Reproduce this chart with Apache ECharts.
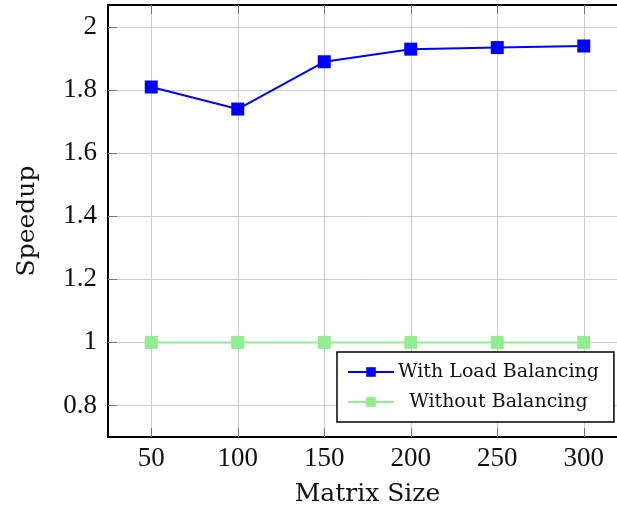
<!DOCTYPE html>
<html>
<head>
<meta charset="utf-8">
<script src="https://cdn.jsdelivr.net/npm/echarts@6/dist/echarts.min.js"></script>
<style>
  html, body { margin: 0; padding: 0; background: #fff; overflow: hidden; }
  /* wider than the window: the plot's right side runs off the picture, as in the original */
  #chart { width: 640px; height: 513px; }
</style>
</head>
<body>
<div id="chart"></div>
<script>
  // data
  var matrixSizes = [50, 100, 150, 200, 250, 300];
  var withBalancing = [1.81, 1.74, 1.89, 1.93, 1.935, 1.94];
  var withoutBalancing = [1, 1, 1, 1, 1, 1];
  var xTicks = [50, 100, 150, 200, 250, 300];
  var yTicks = [0.8, 1, 1.2, 1.4, 1.6, 1.8, 2];

  var serif = '"DejaVu Serif", serif';
  var numFont = '"Liberation Serif", serif';

  var chart = echarts.init(document.getElementById('chart'));

  function pairs(ys) {
    return matrixSizes.map(function (x, i) { return [x, ys[i]]; });
  }

  var tickStyle = { show: true, inside: true, length: 9, lineStyle: { color: '#777', width: 1 } };

  var option = {
    animation: false,
    backgroundColor: '#fff',
    grid: { left: 108, right: 13, top: 5, bottom: 76 },
    xAxis: [{
      type: 'value',
      min: 25,
      max: 325,
      name: 'Matrix Size',
      nameLocation: 'middle',
      nameGap: 45,
      nameTextStyle: { fontFamily: serif, fontSize: 25, color: '#111' },
      axisLine: { show: true, onZero: false, lineStyle: { color: '#000', width: 2 } },
      axisTick: Object.assign({ customValues: xTicks }, tickStyle),
      axisLabel: { customValues: xTicks, margin: 8, fontFamily: numFont, fontSize: 27, color: '#111' },
      splitLine: { show: true, lineStyle: { color: '#cccccc', width: 1 } }
    }, {
      type: 'value',
      position: 'top',
      min: 25,
      max: 325,
      axisLine: { show: true, lineStyle: { color: '#000', width: 2 } },
      axisTick: Object.assign({ customValues: xTicks }, tickStyle),
      axisLabel: { show: false },
      splitLine: { show: false }
    }],
    yAxis: {
      type: 'value',
      min: 0.7,
      max: 2.07,
      name: 'Speedup',
      nameLocation: 'middle',
      nameGap: 68,
      nameTextStyle: { fontFamily: serif, fontSize: 25, color: '#111' },
      axisLine: { show: true, onZero: false, lineStyle: { color: '#000', width: 2 } },
      axisTick: Object.assign({ customValues: yTicks }, tickStyle),
      axisLabel: { customValues: yTicks, margin: 11, fontFamily: numFont, fontSize: 27, color: '#111' },
      splitLine: { show: true, lineStyle: { color: '#cccccc', width: 1 } }
    },
    legend: {
      orient: 'vertical',
      left: 337,
      top: 352,
      padding: [9, 15, 9, 10],
      itemGap: 8,
      itemWidth: 46,
      itemHeight: 12,
      borderColor: '#000',
      borderWidth: 1.5,
      borderRadius: 0,
      backgroundColor: '#fff',
      formatter: function (name) { return '{c|' + name + '}'; },
      textStyle: {
        fontFamily: serif, fontSize: 19, color: '#111', lineHeight: 22,
        rich: { c: { width: 199, align: 'center', fontFamily: serif, fontSize: 19, color: '#111', lineHeight: 22 } }
      },
      data: ['With Load Balancing', 'Without Balancing']
    },
    series: [{
      name: 'With Load Balancing',
      type: 'line',
      data: pairs(withBalancing),
      symbol: 'rect',
      symbolSize: 13,
      color: '#0000ff',
      lineStyle: { color: '#0000ff', width: 2 },
      itemStyle: { color: '#0000ff' }
    }, {
      name: 'Without Balancing',
      type: 'line',
      data: pairs(withoutBalancing),
      symbol: 'rect',
      symbolSize: 13,
      color: '#90ee90',
      lineStyle: { color: '#90ee90', width: 2 },
      itemStyle: { color: '#90ee90' }
    }]
  };

  chart.setOption(option);
</script>
</body>
</html>
